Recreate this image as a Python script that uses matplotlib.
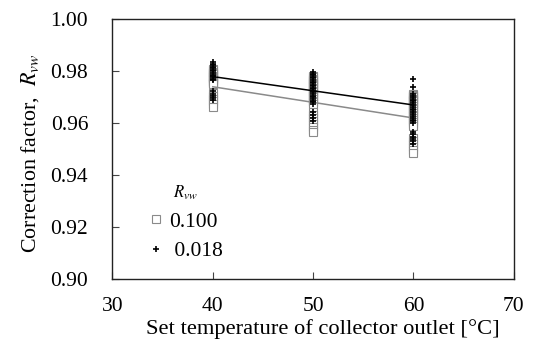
import matplotlib
matplotlib.use("Agg")
import matplotlib.pyplot as plt
import numpy as np

plt.rcParams['font.family'] = ['Liberation Serif', 'DejaVu Serif']
plt.rcParams['mathtext.fontset'] = 'stix'

temps = [40, 50, 60]

# R_vw = 0.100 (squares)
sq_40 = [0.9808, 0.9803, 0.9798, 0.9793, 0.9788, 0.9783, 0.9778, 0.9773, 0.9768, 0.9763,
         0.9758, 0.9754, 0.9750, 0.9716, 0.9705, 0.9694, 0.9684, 0.9673, 0.9662]
sq_50 = [0.9781, 0.9776, 0.9771, 0.9766, 0.9761, 0.9756, 0.9751, 0.9746, 0.9741, 0.9736,
         0.9730, 0.9724, 0.9718, 0.9712, 0.9706, 0.9700, 0.9693, 0.9686, 0.9680, 0.9673,
         0.9643, 0.9632, 0.9620, 0.9608, 0.9596, 0.9584, 0.9575, 0.9566]
sq_60 = [0.9714, 0.9709, 0.9704, 0.9699, 0.9694, 0.9689, 0.9684, 0.9678, 0.9672, 0.9666,
         0.9660, 0.9654, 0.9647, 0.9640, 0.9633, 0.9626, 0.9619, 0.9611, 0.9603, 0.9596,
         0.9589, 0.9543, 0.9531, 0.9519, 0.9507, 0.9496, 0.9485]

# R_vw = 0.018 (plus)
pl_40 = [0.9835, 0.9829, 0.9823, 0.9817, 0.9811, 0.9805, 0.9799, 0.9793, 0.9787, 0.9781,
         0.9776, 0.9771, 0.9766, 0.9723, 0.9714, 0.9706, 0.9697, 0.9689]
pl_50 = [0.9796, 0.9790, 0.9784, 0.9778, 0.9772, 0.9766, 0.9760, 0.9754, 0.9748, 0.9742,
         0.9736, 0.9730, 0.9724, 0.9718, 0.9712, 0.9706, 0.9700, 0.9694, 0.9687, 0.9680,
         0.9673, 0.9643, 0.9632, 0.9620, 0.9608]
pl_60 = [0.9769, 0.9739, 0.9712, 0.9705, 0.9698, 0.9691, 0.9684, 0.9677, 0.9670, 0.9663,
         0.9656, 0.9649, 0.9642, 0.9635, 0.9628, 0.9621, 0.9614, 0.9607, 0.9600, 0.9566,
         0.9557, 0.9548, 0.9539, 0.9530, 0.9520]

trend_100 = [0.9740, 0.9680, 0.9620]
trend_018 = [0.9779, 0.97245, 0.9670]

x_ticks = [30, 40, 50, 60, 70]
y_ticks = [0.90, 0.92, 0.94, 0.96, 0.98, 1.00]

fig = plt.figure(figsize=(5.33, 3.47), dpi=100)
ax = fig.add_axes([0.211, 0.195, 0.753, 0.750])

GRAY = '#8a8a8a'
sq_style = dict(linestyle='none', marker='s', markersize=5.5, markerfacecolor='white',
                markeredgecolor=GRAY, markeredgewidth=0.8)
pl_style = dict(linestyle='none', marker='+', markersize=4.8, color='black',
                markeredgewidth=1.2)

first = True
for t, vals in zip(temps, [sq_40, sq_50, sq_60]):
    ax.plot([t] * len(vals), vals, label='0.100' if first else None, **sq_style)
    first = False
ax.plot(temps, trend_100, color=GRAY, lw=1.1)
ax.plot(temps, trend_018, color='black', lw=1.1)
first = True
for t, vals in zip(temps, [pl_40, pl_50, pl_60]):
    ax.plot([t] * len(vals), vals, label=' 0.018' if first else None, **pl_style)
    first = False

ax.set_xlim(30, 70)
ax.set_ylim(0.90, 1.00)
ax.set_xticks(x_ticks)
ax.set_yticks(y_ticks)
ax.set_xticklabels([str(v) for v in x_ticks])
ax.set_yticklabels([f"{v:.2f}" for v in y_ticks])
ax.tick_params(axis='both', direction='in', length=5, width=0.8, labelsize=15.5, color='#444444')
ax.tick_params(axis='x', pad=12.5)
ax.tick_params(axis='y', pad=17.5)
for s in ax.spines.values():
    s.set_linewidth(1.0)
    s.set_color('#222222')

ax.set_xlabel('Set temperature of collector outlet [°C]', fontsize=16.2)
ax.xaxis.set_label_coords(0.524, -0.152)
ax.set_ylabel('Correction factor,  $R_{vw}$', fontsize=15.8)
ax.yaxis.set_label_coords(-0.177, 0.485)

leg = ax.legend(loc='upper left', bbox_to_anchor=(0.088, 0.367), frameon=False,
                title='$R_{vw}$', title_fontsize=12, fontsize=15.5,
                handlelength=0.8, handletextpad=0.2, labelspacing=0.44,
                borderpad=0, borderaxespad=0, markerscale=1.0)

fig.savefig('out.png', dpi=100)
